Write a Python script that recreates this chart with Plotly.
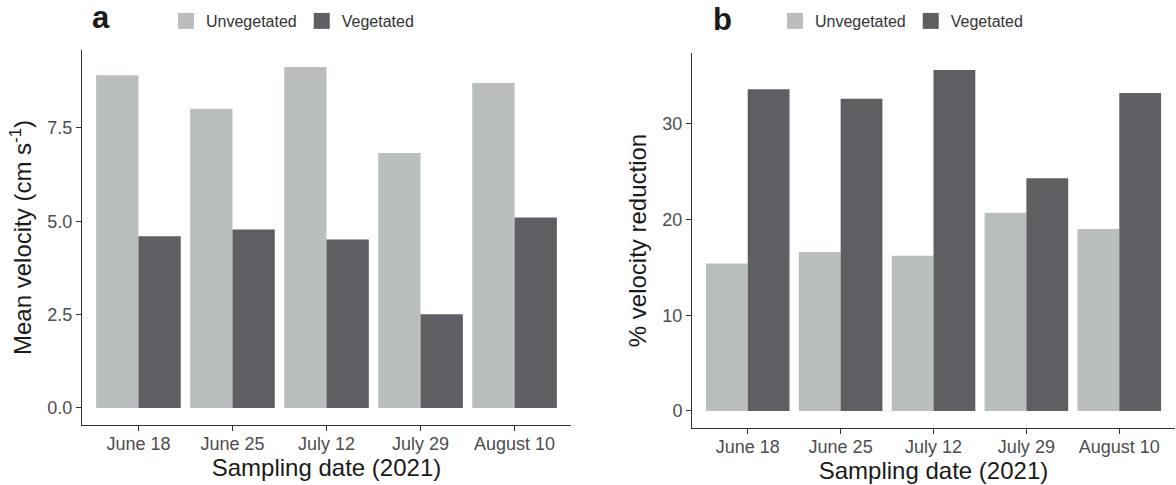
import plotly.graph_objects as go

# ---- data ----
dates = ["June 18", "June 25", "July 12", "July 29", "August 10"]
velocity_unveg = [8.91, 8.01, 9.13, 6.83, 8.70]
velocity_veg = [4.60, 4.78, 4.51, 2.51, 5.10]
reduction_unveg = [15.4, 16.6, 16.2, 20.7, 19.0]
reduction_veg = [33.6, 32.6, 35.6, 24.3, 33.2]
series_names = ["Unvegetated", "Vegetated"]

C_UNVEG = "#bbbebf"
C_VEG = "#5f5e63"
FONT = "Liberation Sans, Arial, sans-serif"
W, H = 1176, 485

fig = go.Figure()

# panel a
fig.add_trace(go.Bar(x=dates, y=velocity_unveg, name=series_names[0], marker=dict(color=C_UNVEG, line=dict(width=0)),
                     xaxis="x", yaxis="y", showlegend=False))
fig.add_trace(go.Bar(x=dates, y=velocity_veg, name=series_names[1], marker=dict(color=C_VEG, line=dict(width=0)),
                     xaxis="x", yaxis="y", showlegend=False))
# panel b
fig.add_trace(go.Bar(x=dates, y=reduction_unveg, name=series_names[0], marker=dict(color=C_UNVEG, line=dict(width=0)),
                     xaxis="x2", yaxis="y2", showlegend=False))
fig.add_trace(go.Bar(x=dates, y=reduction_veg, name=series_names[1], marker=dict(color=C_VEG, line=dict(width=0)),
                     xaxis="x2", yaxis="y2", showlegend=False))

# legend entries (square keys)
for leg, xa, ya in [("legend", "x", "y"), ("legend2", "x2", "y2")]:
    for nm, col in zip(series_names, [C_UNVEG, C_VEG]):
        fig.add_trace(go.Scatter(x=[None], y=[None], mode="markers", name=nm,
                                 marker=dict(symbol="square", size=16, color=col),
                                 xaxis=xa, yaxis=ya, legend=leg, showlegend=True))

def px(v):
    return v / W

def py(v):
    return 1 - v / H

ymax_a = max(velocity_unveg + velocity_veg)
ymax_b = max(reduction_unveg + reduction_veg)

axis_common = dict(
    showline=True, linecolor="#333333", linewidth=1,
    ticks="outside", ticklen=5, tickwidth=1, tickcolor="#333333",
    showgrid=False, zeroline=False,
    tickfont=dict(family=FONT, size=18, color="#4d4d4d"),
)

fig.update_layout(
    width=W, height=H,
    margin=dict(l=0, r=0, t=0, b=0),
    paper_bgcolor="white", plot_bgcolor="white",
    barmode="group", bargap=0.1, bargroupgap=0,
    font=dict(family=FONT),
    xaxis=dict(domain=[px(82), px(571)], anchor="y", type="category",
               range=[-0.6, 4.6], ticklabelstandoff=-3,
               title=dict(text="Sampling date (2021)", font=dict(family=FONT, size=24, color="#1a1a1a"), standoff=6),
               **axis_common),
    yaxis=dict(domain=[py(425), py(50)], anchor="x",
               range=[-0.05 * ymax_a, 1.05 * ymax_a],
               tickvals=[0, 2.5, 5.0, 7.5], ticktext=["0.0", "2.5", "5.0", "7.5"],
               title=dict(text="Mean velocity (cm s<sup>-1</sup>)", font=dict(family=FONT, size=24, color="#1a1a1a"), standoff=8),
               **axis_common),
    xaxis2=dict(domain=[px(692), px(1175)], anchor="y2", type="category",
                range=[-0.6, 4.6], ticklabelstandoff=-3,
                title=dict(text="Sampling date (2021)", font=dict(family=FONT, size=24, color="#1a1a1a"), standoff=6),
                **axis_common),
    yaxis2=dict(domain=[py(428), py(53)], anchor="x2",
                range=[-0.05 * ymax_b, 1.05 * ymax_b],
                tickvals=[0, 10, 20, 30],
                title=dict(text="% velocity reduction", font=dict(family=FONT, size=24, color="#1a1a1a"), standoff=8),
                **axis_common),
    legend=dict(orientation="h", x=px(166), y=py(21), xanchor="left", yanchor="middle",
                font=dict(family=FONT, size=16, color="#333333"), bgcolor="rgba(0,0,0,0)"),
    legend2=dict(orientation="h", x=px(775), y=py(21), xanchor="left", yanchor="middle",
                 font=dict(family=FONT, size=16, color="#333333"), bgcolor="rgba(0,0,0,0)"),
    annotations=[
        dict(text="<b>a</b>", x=px(101), y=py(18), xref="paper", yref="paper", showarrow=False,
             font=dict(family=FONT, size=31, color="#1a1a1a"), xanchor="center", yanchor="middle"),
        dict(text="<b>b</b>", x=px(722), y=py(20), xref="paper", yref="paper", showarrow=False,
             font=dict(family=FONT, size=31, color="#1a1a1a"), xanchor="center", yanchor="middle"),
    ],
)

fig.write_html("out.html")
